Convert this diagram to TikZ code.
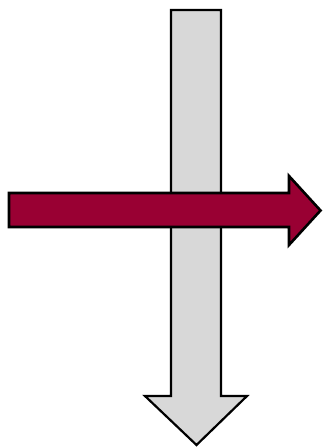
\documentclass[tikz,border=0pt]{standalone}
\definecolor{arrowred}{HTML}{990033}
\definecolor{arrowgray}{HTML}{D8D8D8}
\begin{document}
\begin{tikzpicture}[x=1pt,y=-1pt,
  grayarrow/.style={fill=arrowgray,draw=black,line width=2.2pt,line join=miter},
  redarrow/.style={fill=arrowred,draw=black,line width=2.6pt,line join=miter}]
\useasboundingbox (0,0) rectangle (322,447);
% vertical gray arrow
\draw[grayarrow] (171,10) -- (221,10) -- (221,396) -- (247,396) -- (196.5,445) -- (145,396) -- (171,396) -- cycle;
% horizontal red arrow
\draw[redarrow] (9,193) -- (289,193) -- (289,176) -- (320.5,210.5) -- (289,245) -- (289,227) -- (9,227) -- cycle;
\end{tikzpicture}
\end{document}
